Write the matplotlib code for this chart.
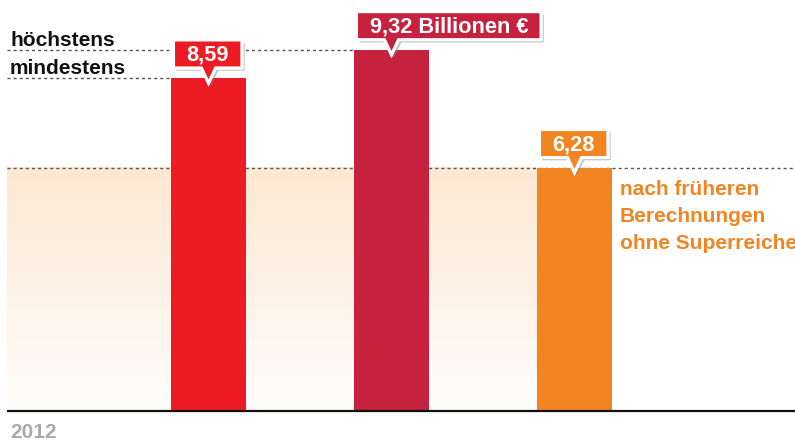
import numpy as np
import matplotlib.pyplot as plt
from matplotlib.patches import Polygon
import matplotlib.patheffects as pe

plt.rcParams['font.family'] = 'Liberation Sans'

# data
values = [8.59, 9.32, 6.28]
labels = ['8,59', '9,32 Billionen €', '6,28']
colors = ['#ED1C24', '#C62240', '#F28522']
range_labels = ['höchstens', 'mindestens']
year = '2012'
note = ['nach früheren', 'Berechnungen', 'ohne Superreichen']

W, H = 795, 441
fig = plt.figure(figsize=(W / 100, H / 100), dpi=100)
ax = fig.add_axes([0, 0, 1, 1])
ax.axis('off')

step = 183.0   # px per category
unit = 38.77   # px per Billion
x0, y0 = 208.5, 30.0
ax.set_xlim(-x0 / step, (W - x0) / step)
ax.set_ylim(-y0 / unit, (H - y0) / unit)

def dx(p):
    return p / step

def dy(p):
    return p / unit

xs = np.arange(len(values))
bw = dx(75)
left = dx(7 - x0)
right = dx(W - x0)

# gradient band up to the old estimate
grad = np.linspace(0, 1, 200)[:, None]
top_c = np.array([253, 232, 210]) / 255
bot_c = np.array([255, 253, 251]) / 255
img = top_c[None, None, :] * (1 - grad[:, :, None]) + bot_c[None, None, :] * grad[:, :, None]
ax.imshow(img, extent=[left, xs[2] - bw / 2, 0, values[2]], aspect='auto', zorder=0)

ax.bar(xs, values, width=bw, color=colors, zorder=2)

dash = (0, (2.2, 2.2))
ax.hlines(values[1], left, xs[1] - bw / 2, color='#555555', lw=1, linestyle=dash, zorder=1)
ax.hlines(values[0], left, xs[0] - bw / 2, color='#555555', lw=1, linestyle=dash, zorder=1)
ax.hlines(values[2], left, right, color='#555555', lw=1, linestyle=dash, zorder=1)
ax.plot([left, right], [0, 0], color='#111111', lw=1.6, zorder=3, solid_capstyle='butt')

fs = 15
ax.text(dx(10 - x0), values[1] + dy(4), range_labels[0], fontsize=fs, fontweight='bold',
        color='#111111', va='baseline')
ax.text(dx(10 - x0), values[0] + dy(4), range_labels[1], fontsize=fs, fontweight='bold',
        color='#111111', va='baseline')
ax.text(dx(10 - x0), -dy(27), year, fontsize=fs, fontweight='bold', color='#A7A9AC', va='baseline')

for i, line in enumerate(note):
    ax.text(dx(620 - x0), values[2] - dy(27 + 27 * i), line, fontsize=fs, fontweight='bold',
            color=colors[2], va='baseline')

# callout boxes
fig.canvas.draw()
r = fig.canvas.get_renderer()
for x, v, lab, c in zip(xs, values, labels, colors):
    L = x - dx(35)
    B = v + dy(10)
    T = B + dy(28)
    t = ax.text(L + dx(13), (B + T) / 2 - dy(1), lab, fontsize=15.7, fontweight='bold',
                color='white', va='center', ha='left', zorder=6)
    w = t.get_window_extent(renderer=r).width
    R = L + dx(w + 26)
    verts = [(L, B), (x - dx(7), B), (x, v - dy(5)), (x + dx(7), B), (R, B), (R, T), (L, T)]
    poly = Polygon(verts, closed=True, fc=c, ec='white', lw=2.2, zorder=5, joinstyle='miter')
    poly.set_path_effects([pe.withSimplePatchShadow(offset=(2, -2), shadow_rgbFace='#888888', alpha=0.5),
                           pe.Normal()])
    ax.add_patch(poly)

fig.savefig('out.png', dpi=100)
